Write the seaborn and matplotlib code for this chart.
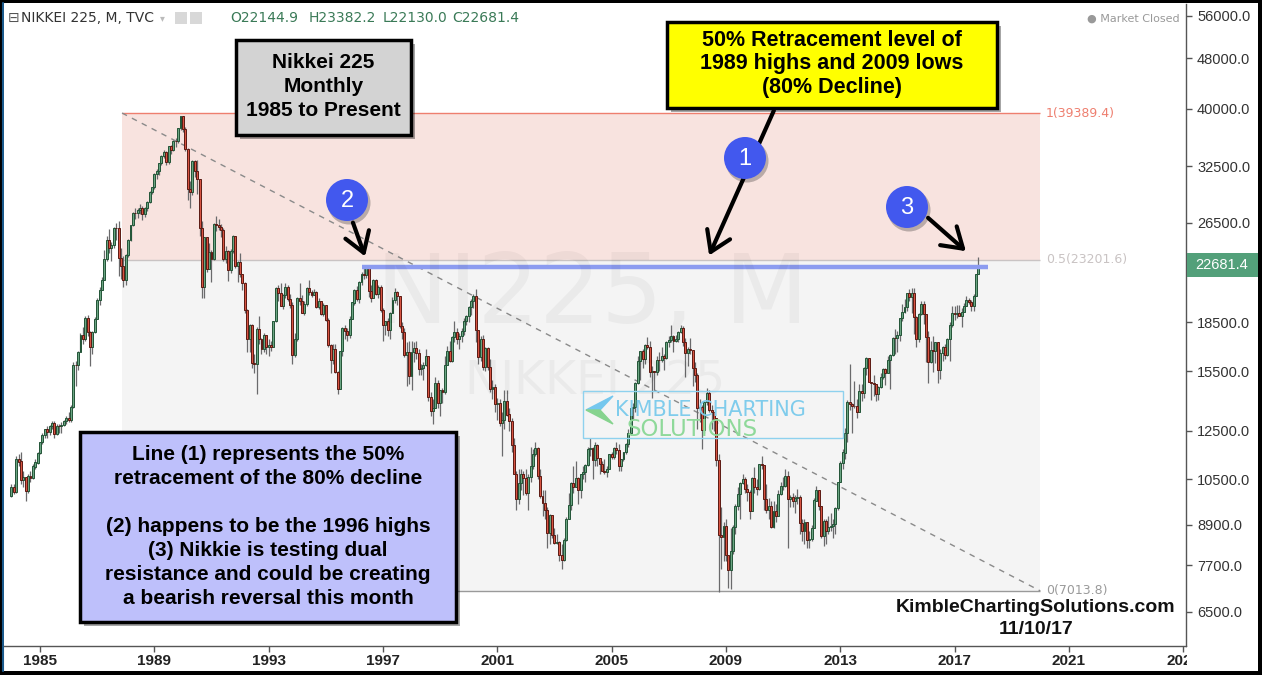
import numpy as np
import pandas as pd
import matplotlib
matplotlib.use("Agg")
import matplotlib.pyplot as plt
import matplotlib.patches as mpatches
import matplotlib.font_manager as fm
import seaborn as sns

W, H = 1262, 675

# Nikkei 225 monthly candles, Jan 1984 .. Nov 2017 (values in thousands)
first_open = 9.89
closes = [
    10.20, 10.01, 11.29, 11.19, 10.48, 10.58, 10.07, 10.60, 10.56, 10.99, 11.15, 11.54,  # 1984
    11.99, 12.32, 12.58, 12.43, 12.71, 12.88, 12.35, 12.71, 12.70, 12.76, 12.95, 13.11,  # 1985
    13.02, 13.64, 15.86, 15.83, 16.62, 17.65, 17.40, 18.82, 17.85, 16.91, 17.85, 18.70,  # 1986
    20.05, 20.79, 21.57, 23.27, 24.90, 24.18, 24.49, 26.03, 26.01, 23.33, 22.69, 21.56,  # 1987
    23.62, 24.90, 26.26, 27.43, 27.42, 27.77, 27.91, 27.37, 27.92, 28.60, 29.58, 30.16,  # 1988
    31.58, 31.99, 32.84, 33.71, 34.27, 32.95, 34.95, 34.43, 35.64, 35.55, 37.27, 38.92,  # 1989
    37.19, 34.59, 29.98, 29.58, 33.13, 31.94, 31.04, 25.98, 20.98, 25.19, 22.45, 23.85,  # 1990
    23.29, 26.41, 26.29, 26.11, 25.79, 23.29, 23.90, 22.34, 23.92, 25.22, 22.69, 22.98,  # 1991
    22.02, 21.34, 19.35, 17.39, 18.35, 15.95, 15.91, 18.06, 17.40, 16.77, 17.68, 16.92,  # 1992
    17.02, 16.95, 18.59, 20.92, 20.55, 19.59, 20.38, 21.03, 20.11, 19.70, 16.41, 17.42,  # 1993
    20.23, 20.00, 19.11, 19.73, 20.97, 20.64, 20.45, 20.63, 19.56, 19.99, 19.08, 19.72,  # 1994
    18.65, 17.05, 16.14, 16.81, 15.44, 14.52, 16.68, 18.12, 17.91, 17.66, 18.74, 19.87,  # 1995
    20.81, 20.13, 21.41, 22.04, 21.96, 22.53, 20.69, 20.17, 21.56, 20.47, 21.02, 19.36,  # 1996
    18.33, 18.56, 18.00, 19.15, 20.07, 20.61, 20.33, 18.23, 17.89, 16.46, 16.64, 15.26,  # 1997
    16.63, 16.83, 16.53, 15.64, 15.67, 15.83, 16.38, 14.11, 13.41, 13.56, 14.88, 13.84,  # 1998
    14.50, 14.37, 15.84, 16.70, 16.11, 17.53, 17.86, 17.44, 17.61, 17.94, 18.56, 18.93,  # 1999
    19.54, 19.96, 20.34, 17.97, 16.33, 17.41, 15.73, 16.86, 15.75, 14.54, 14.65, 13.79,  # 2000
    13.84, 12.88, 13.00, 13.93, 13.26, 12.97, 11.86, 10.71, 9.77, 10.37, 10.70, 10.54,   # 2001
    10.00, 10.59, 11.02, 11.49, 11.76, 10.62, 9.88, 9.62, 9.38, 8.64, 9.22, 8.58,        # 2002
    8.34, 8.36, 7.97, 7.83, 8.42, 9.08, 9.56, 10.34, 10.22, 10.56, 10.10, 10.68,         # 2003
    10.78, 11.04, 11.72, 11.76, 11.24, 11.86, 11.33, 11.08, 10.82, 10.77, 10.90, 11.49,  # 2004
    11.39, 11.74, 11.67, 11.01, 11.28, 11.58, 11.90, 12.41, 13.57, 13.61, 14.87, 16.11,  # 2005
    16.65, 16.21, 17.06, 16.91, 15.47, 15.51, 15.46, 16.14, 16.13, 16.40, 16.27, 17.23,  # 2006
    17.38, 17.60, 17.29, 17.40, 17.88, 18.14, 17.25, 16.57, 16.79, 16.74, 15.68, 15.31,  # 2007
    13.59, 13.60, 12.53, 13.85, 14.34, 13.48, 13.38, 13.07, 11.26, 8.58, 8.51, 8.86,     # 2008
    7.99, 7.57, 8.11, 8.83, 9.52, 9.96, 10.36, 10.49, 10.13, 10.03, 9.35, 10.55,         # 2009
    10.20, 10.13, 11.09, 11.06, 9.77, 9.38, 9.54, 8.82, 9.37, 9.20, 9.94, 10.23,         # 2010
    10.24, 10.62, 9.76, 9.85, 9.69, 9.82, 9.83, 8.96, 8.70, 8.99, 8.43, 8.46,            # 2011
    8.80, 9.72, 10.08, 9.52, 8.54, 9.01, 8.70, 8.84, 8.87, 8.93, 9.45, 10.40,            # 2012
    11.14, 11.56, 12.40, 13.86, 13.77, 13.68, 13.67, 13.39, 14.46, 14.33, 15.66, 16.29,  # 2013
    14.91, 14.84, 14.83, 14.30, 14.63, 15.16, 15.62, 15.42, 16.17, 16.41, 17.46, 17.45,  # 2014
    17.67, 18.80, 19.21, 19.52, 20.56, 20.24, 20.59, 18.89, 17.39, 19.08, 19.75, 19.03,  # 2015
    17.52, 16.03, 16.76, 16.67, 17.23, 15.58, 16.57, 16.89, 16.45, 17.43, 18.31, 19.11,  # 2016
    19.04, 19.12, 18.91, 19.20, 19.65, 20.03, 19.93, 19.65, 20.36, 22.01, 22.68,         # 2017
]
highs = [
    10.30, 10.30, 11.40, 11.50, 11.58, 10.80, 10.60, 10.70, 10.80, 11.10, 11.30, 11.58,
    12.00, 12.40, 12.60, 12.70, 12.75, 12.95, 12.95, 12.80, 12.80, 12.90, 13.00, 13.20,
    13.40, 13.70, 16.00, 16.10, 16.70, 17.80, 18.20, 18.90, 18.97, 17.90, 17.90, 18.85,
    20.20, 21.00, 21.80, 24.00, 25.30, 25.90, 24.70, 26.10, 26.50, 26.65, 24.20, 23.50,
    23.70, 25.00, 26.30, 27.60, 28.00, 28.00, 28.40, 28.20, 28.10, 28.70, 29.70, 30.20,
    31.70, 32.20, 32.90, 33.80, 34.50, 34.40, 35.00, 35.10, 35.70, 36.00, 37.30, 38.96,
    38.95, 37.50, 34.70, 30.80, 33.20, 33.20, 33.20, 31.00, 26.70, 25.20, 25.20, 24.60,
    24.00, 26.45, 27.15, 26.90, 26.40, 26.00, 24.40, 24.00, 24.10, 25.40, 25.30, 23.10,
    23.80, 22.00, 21.40, 19.40, 18.40, 18.40, 16.50, 18.20, 18.90, 17.50, 17.80, 17.70,
    17.40, 17.30, 18.60, 21.00, 21.20, 21.30, 20.50, 21.30, 21.15, 20.50, 19.90, 17.80,
    20.30, 21.30, 20.40, 20.00, 21.00, 21.55, 20.80, 20.90, 20.70, 20.20, 20.00, 19.80,
    19.70, 18.80, 17.10, 17.10, 17.10, 15.50, 16.70, 18.20, 18.30, 18.10, 18.90, 19.90,
    20.90, 21.10, 21.50, 22.20, 22.70, 22.75, 22.70, 21.20, 21.60, 21.60, 21.20, 21.20,
    19.50, 18.60, 18.80, 19.20, 20.30, 20.91, 20.70, 20.30, 18.50, 18.10, 17.20, 17.30,
    17.30, 17.20, 17.30, 16.80, 15.90, 16.00, 16.80, 16.40, 14.40, 14.00, 15.20, 15.00,
    14.50, 14.60, 16.40, 17.00, 17.30, 17.60, 18.60, 18.10, 17.80, 18.10, 18.80, 19.00,
    19.60, 20.10, 20.50, 20.83, 18.00, 17.60, 17.70, 16.90, 16.90, 16.20, 15.00, 14.80,
    14.10, 14.00, 13.40, 14.50, 14.50, 13.60, 13.10, 12.20, 10.80, 10.90, 10.90, 10.80,
    10.90, 10.70, 11.80, 11.70, 12.00, 11.80, 10.90, 10.10, 10.10, 9.50, 9.25, 9.20,
    8.80, 8.60, 8.40, 8.30, 8.50, 9.15, 10.00, 10.40, 11.00, 11.20, 10.60, 10.70,
    11.00, 11.10, 11.80, 12.20, 11.80, 11.99, 11.90, 11.30, 11.20, 11.30, 11.00, 11.50,
    11.60, 11.80, 12.00, 11.90, 11.30, 11.60, 11.95, 12.60, 13.60, 13.80, 14.90, 16.40,
    16.70, 16.80, 17.10, 17.56, 17.30, 15.80, 15.50, 16.40, 16.60, 16.90, 16.50, 17.30,
    17.60, 18.30, 17.70, 17.70, 17.90, 18.30, 18.26, 17.50, 16.90, 17.49, 16.70, 16.00,
    15.40, 14.00, 13.70, 13.90, 14.60, 14.50, 13.70, 13.30, 12.80, 11.50, 9.50, 9.00,
    9.10, 7.90, 8.80, 8.90, 9.60, 10.20, 10.40, 10.70, 10.60, 10.30, 10.10, 10.60,
    10.98, 10.50, 11.10, 11.40, 11.00, 10.30, 9.80, 9.70, 9.70, 9.60, 10.10, 10.40,
    10.60, 10.90, 10.80, 9.90, 10.00, 9.90, 10.14, 9.90, 9.10, 9.10, 9.00, 8.70,
    8.90, 9.80, 10.25, 10.00, 9.50, 9.10, 9.10, 9.20, 9.30, 9.10, 9.50, 10.40,
    11.20, 11.70, 12.65, 13.98, 15.94, 13.80, 14.95, 14.00, 14.82, 14.80, 15.73, 16.32,
    16.16, 14.90, 15.30, 14.70, 14.70, 15.40, 15.70, 15.70, 16.37, 16.50, 17.52, 18.03,
    17.90, 18.80, 19.78, 20.13, 20.56, 20.87, 20.95, 20.94, 18.90, 19.10, 20.01, 20.01,
    18.95, 17.90, 17.30, 17.60, 17.25, 17.00, 16.80, 17.00, 17.10, 17.50, 18.50, 19.59,
    19.62, 19.67, 19.67, 19.45, 19.80, 20.32, 20.22, 20.08, 20.48, 22.04, 23.38,
]
lows = [
    9.85, 9.95, 10.00, 11.00, 10.30, 10.20, 9.70, 10.00, 10.40, 10.50, 10.90, 11.10,
    11.50, 11.90, 12.20, 12.20, 12.30, 12.60, 12.20, 12.30, 12.40, 12.40, 12.70, 12.80,
    12.90, 12.90, 13.60, 14.70, 15.60, 16.60, 17.10, 17.30, 17.60, 15.80, 16.50, 17.80,
    18.70, 19.70, 20.80, 21.60, 23.10, 23.80, 23.10, 24.20, 24.90, 21.90, 21.60, 21.00,
    21.20, 23.40, 24.80, 26.20, 26.90, 27.00, 27.40, 26.80, 27.10, 27.70, 28.50, 29.40,
    29.90, 31.00, 31.50, 32.70, 33.50, 32.60, 32.80, 34.00, 34.30, 34.90, 35.40, 37.10,
    36.80, 34.30, 28.80, 28.00, 29.30, 31.30, 29.40, 25.30, 20.20, 20.20, 22.20, 22.40,
    21.40, 23.20, 25.70, 25.80, 25.20, 23.10, 22.90, 21.50, 22.10, 23.80, 22.50, 21.40,
    21.80, 20.80, 19.10, 16.60, 16.60, 15.70, 15.40, 14.30, 17.10, 16.50, 16.60, 16.50,
    16.40, 16.70, 16.90, 18.50, 20.00, 19.60, 19.40, 20.20, 20.00, 19.50, 15.90, 16.30,
    17.30, 19.70, 19.10, 19.00, 19.60, 20.40, 20.30, 20.40, 19.50, 19.40, 19.00, 18.90,
    18.60, 16.90, 15.40, 15.90, 15.40, 14.30, 14.60, 16.40, 17.40, 17.30, 17.50, 18.70,
    19.70, 20.00, 19.80, 21.20, 21.60, 21.70, 20.30, 19.90, 20.20, 20.40, 20.20, 19.20,
    17.30, 17.70, 17.60, 17.40, 19.10, 19.80, 19.70, 18.10, 17.40, 16.30, 14.70, 14.80,
    14.50, 16.00, 16.20, 15.30, 15.30, 15.00, 15.80, 13.90, 13.20, 12.80, 13.60, 13.60,
    13.20, 13.80, 14.30, 15.90, 16.00, 16.00, 17.20, 17.10, 16.80, 17.20, 17.70, 18.30,
    18.50, 19.00, 19.50, 17.20, 15.90, 16.10, 15.60, 15.50, 15.60, 14.40, 14.00, 13.40,
    13.00, 12.70, 11.40, 12.60, 13.20, 12.50, 11.60, 10.70, 9.40, 9.60, 10.10, 9.90,
    9.90, 9.40, 10.40, 10.90, 11.40, 10.50, 9.80, 9.20, 9.10, 8.20, 8.30, 8.50,
    8.30, 8.30, 7.80, 7.60, 7.80, 8.40, 9.30, 9.40, 10.00, 10.30, 9.60, 9.80,
    10.50, 10.40, 11.00, 11.40, 10.50, 11.00, 11.00, 10.70, 10.80, 10.70, 10.60, 10.90,
    11.30, 11.30, 11.50, 10.80, 10.80, 11.20, 11.50, 11.80, 12.30, 13.00, 13.40, 14.80,
    15.00, 15.70, 15.90, 16.80, 15.20, 14.05, 14.50, 15.30, 15.50, 16.00, 15.60, 16.20,
    16.90, 17.20, 16.60, 17.20, 17.20, 17.80, 17.00, 15.20, 15.80, 16.50, 14.70, 14.90,
    12.60, 12.90, 11.70, 12.40, 13.70, 13.40, 12.60, 12.50, 11.00, 6.99, 7.60, 7.80,
    7.80, 7.10, 7.05, 8.00, 8.60, 9.40, 9.10, 10.30, 10.00, 9.70, 9.10, 9.50,
    10.00, 9.90, 10.10, 10.90, 9.40, 9.30, 9.10, 8.80, 8.80, 9.00, 9.20, 9.90,
    10.10, 10.20, 8.20, 9.50, 9.50, 9.30, 9.60, 8.60, 8.40, 8.30, 8.20, 8.20,
    8.40, 8.80, 9.70, 9.40, 8.50, 8.24, 8.30, 8.60, 8.70, 8.50, 8.60, 9.40,
    10.50, 10.90, 11.30, 12.00, 13.50, 12.40, 13.60, 13.10, 13.40, 13.90, 14.10, 15.30,
    14.90, 13.99, 14.20, 13.90, 13.95, 14.60, 15.10, 14.75, 15.50, 14.53, 16.40, 16.50,
    16.59, 17.30, 18.60, 19.10, 19.30, 19.99, 19.12, 17.71, 16.90, 17.20, 19.00, 18.40,
    16.02, 14.87, 15.98, 15.47, 15.98, 14.86, 15.10, 16.10, 16.20, 16.40, 16.11, 18.20,
    18.65, 18.81, 18.98, 18.22, 19.25, 19.60, 19.77, 19.24, 19.24, 20.38, 22.13,
]

# retracement tool and annotation levels
fib_levels = [7013.8, 23201.6, 39389.4]
fib_names = ["0(7013.8)", "0.5(23201.6)", "1(39389.4)"]
fib_span = [1987.87, 2020.0]
line1_level = 22600
line1_span = [1996.27, 2018.17]
price_ticks = [6500, 7700, 8900, 10500, 12500, 15500, 18500, 26500, 32500, 40000, 48000, 56000]
year_ticks = list(range(1985, 2026, 4))
last_price = 22681.4
header_ohlc = [("O22144.9", 230), ("H23382.2", 309), ("L22130.0", 383), ("C22681.4", 452)]

sns.set_theme(style="white")
plt.rcParams['font.family'] = ['Liberation Sans', 'DejaVu Sans']
names = {f.name for f in fm.fontManager.ttflist}
narrow = 'Liberation Sans Narrow' in names

fig = plt.figure(figsize=(W / 100, H / 100), dpi=100, facecolor='black')


def fx(x):
    return x / W


def fy(y):
    return 1 - y / H


def rect(x0, y0, x1, y1, **kw):
    r = mpatches.Rectangle((fx(x0), fy(y1)), (x1 - x0) / W, (y1 - y0) / H,
                           transform=fig.transFigure, **kw)
    fig.add_artist(r)
    return r


def ftext(x, y, s, **kw):
    return fig.text(fx(x), fy(y), s, **kw)


# screenshot frame
rect(4, 3, 1258, 671, facecolor='white', edgecolor='none', zorder=-5)
fig.add_artist(plt.Line2D([fx(3), fx(3)], [fy(3), fy(671)], color='#1b5a8c', lw=1.5,
                          transform=fig.transFigure, zorder=-4))

ax = fig.add_axes([fx(4), fy(646), (1186 - 4) / W, (646 - 4) / H])
ax.set_facecolor('white')
ax.set_yscale('log')
ax.set_ylim(5748, 58390)
ax.set_xlim(1983.74, 2025.10)

# candles
dates = pd.date_range('1984-01-01', periods=len(closes), freq='MS')
df = pd.DataFrame({'close': closes, 'high': highs, 'low': lows}, index=dates) * 1000
df['open'] = df['close'].shift(1).fillna(first_open * 1000)
df['x'] = df.index.year + (df.index.month - 1) / 12
df['high'] = df[['high', 'open', 'close']].max(axis=1)
df['low'] = df[['low', 'open', 'close']].min(axis=1)
up = df['close'] >= df['open']

ax.vlines(df['x'], df['low'], df['high'], color='#6a6a6c', lw=0.9, zorder=3)
for mask, fc, ec in [(up, '#6BA583', '#225437'), (~up, '#D75442', '#5B1A13')]:
    d = df[mask]
    ax.bar(d['x'], (d['close'] - d['open']).abs() + 1, bottom=d[['open', 'close']].min(axis=1),
           width=0.068, color=fc, edgecolor=ec, linewidth=0.7, zorder=4)

# fib retracement zones
ax.fill_between(fib_span, fib_levels[1], fib_levels[2], color='#F8E3DF', lw=0, zorder=0)
ax.fill_between(fib_span, fib_levels[0], fib_levels[1], color='#F4F4F4', lw=0, zorder=0)
fib_colors = ['#9a9a9a', '#c9c3c3', '#EE7F6F']
for lvl, nm, c in zip(fib_levels, fib_names, fib_colors):
    ax.hlines(lvl, fib_span[0], fib_span[1], color=c, lw=1, zorder=1)
    ax.text(fib_span[1] + 0.2, lvl, nm, color=c, fontsize=9, va='center', ha='left',
            family='DejaVu Sans', zorder=5)
ax.plot(fib_span, [fib_levels[2], fib_levels[0]], color='#8a8a8a', lw=1, ls=(0, (4, 4)), zorder=2)
ax.hlines(line1_level, line1_span[0], line1_span[1], color='#8C9CF0', lw=3.2, zorder=5)

# watermarks
ftext(592, 323, "NI225, M", fontsize=70, color='black', alpha=0.04, ha='center', va='baseline',
      family='DejaVu Sans', zorder=1)
ftext(595, 395, "NIKKEI 225", fontsize=34, color='black', alpha=0.04, ha='center', va='baseline',
      family='DejaVu Sans', zorder=1)

# Kimble logo
rect(583, 391, 843, 438, facecolor='none', edgecolor='#8ED1EE', lw=1, zorder=6)
fig.add_artist(mpatches.Polygon([(fx(586), fy(410)), (fx(613), fy(396)), (fx(600), fy(410))],
                                closed=True, transform=fig.transFigure, color='#74C7EE', zorder=6))
fig.add_artist(mpatches.Polygon([(fx(586), fy(410)), (fx(613), fy(424)), (fx(600), fy(410))],
                                closed=True, transform=fig.transFigure, color='#86D38E', zorder=6))
ftext(615, 416, "KIMBLE CHARTING", fontsize=15, color='#7FCCEC', ha='left', va='baseline',
      family='DejaVu Sans', zorder=6)
ftext(627, 436, "SOLUTIONS", fontsize=16.5, color='#8FD99A', ha='left', va='baseline',
      family='DejaVu Sans', zorder=6)

# axes styling
for s in ['left', 'top']:
    ax.spines[s].set_visible(False)
for s in ['right', 'bottom']:
    ax.spines[s].set_color('#555555')
    ax.spines[s].set_linewidth(1)
ax.yaxis.tick_right()
ax.yaxis.set_minor_locator(matplotlib.ticker.NullLocator())
ax.set_yticks(price_ticks)
ax.set_yticklabels(["%.1f" % t for t in price_ticks])
ax.set_xticks(year_ticks)
ax.set_xticklabels([str(y) for y in year_ticks], fontweight='bold')
ax.tick_params(axis='y', which='major', right=True, direction='out', length=4, width=1,
               color='#555555', labelsize=10.5, labelcolor='#333333', pad=4)
ax.tick_params(axis='x', which='major', bottom=True, direction='out', length=4, width=1,
               color='#555555', labelsize=11, labelcolor='#222222', pad=2)
ax.grid(False)

# price scale cover for clipped year label and last price tag
rect(1187, 647, 1258, 671, facecolor='white', edgecolor='none', zorder=8)
rect(1187, 253, 1258, 277, facecolor='#53A07A', edgecolor='none', zorder=9)
ftext(1195, 265, "%.1f" % last_price, color='white', fontsize=10.5, va='center', ha='left', zorder=10)

# header
ftext(8, 18, "⊟", fontsize=10, color='#555555', va='center', family='DejaVu Sans')
ftext(21, 18, "NIKKEI 225, M, TVC", fontsize=10, color='#333333', va='center', family='DejaVu Sans')
ftext(160, 18, "▾", fontsize=7, color='#bbbbbb', va='center', family='DejaVu Sans')
rect(175, 12, 187, 24, facecolor='#d8d8d8', edgecolor='none')
rect(190, 12, 202, 24, facecolor='#d8d8d8', edgecolor='none')
for s, xp in header_ohlc:
    ftext(xp, 18, s, fontsize=10, color='#3A7A57', va='center', family='DejaVu Sans')
ftext(1180, 19, "● Market Closed", fontsize=8, color='#999999', va='center', ha='right',
      family='DejaVu Sans')


def box(x0, y0, x1, y1, fc, lines, ys, size, family=None):
    rect(x0 + 4, y0 + 4, x1 + 4, y1 + 4, facecolor='#000000', alpha=0.35, edgecolor='none', zorder=10)
    rect(x0, y0, x1, y1, facecolor=fc, edgecolor='black', lw=2.5, zorder=11)
    for s, yy in zip(lines, ys):
        kw = dict(fontsize=size, fontweight='bold', color='black', ha='center', va='center', zorder=12)
        if family:
            kw['family'] = family
        ftext((x0 + x1) / 2, yy, s, **kw)


box(236, 40, 411, 135, '#D3D3D3', ["Nikkei 225", "Monthly", "1985 to Present"], [63, 87, 111], 15)
if narrow:
    box(667, 22, 997, 108, '#FFFF00', ["50% Retracement level of", "1989 highs and 2009 lows", "(80% Decline)"],
        [41, 64, 88], 18, family='Liberation Sans Narrow')
else:
    box(667, 22, 997, 108, '#FFFF00', ["50% Retracement level of", "1989 highs and 2009 lows", "(80% Decline)"],
        [41, 64, 88], 15.5)
box(80, 432, 456, 622, '#BEC0FB',
    ["Line (1) represents the 50%", "retracement of the 80% decline",
     "(2) happens to be the 1996 highs", "(3) Nikkie is testing dual",
     "resistance and could be creating", "a bearish reversal this month"],
    [455, 479, 527, 550, 574, 598], 15)

ftext(1036, 608, "KimbleChartingSolutions.com", fontsize=14, fontweight='bold', ha='center', va='center',
      color='#111111', zorder=12)
ftext(1036, 630, "11/10/17", fontsize=14, fontweight='bold', ha='center', va='center',
      color='#111111', zorder=12)


def arrow(x0, y0, x1, y1):
    a = mpatches.FancyArrowPatch((fx(x0), fy(y0)), (fx(x1), fy(y1)), transform=fig.transFigure,
                                 arrowstyle='->,head_length=0.7,head_width=0.45', mutation_scale=20,
                                 color='black', lw=3, zorder=12)
    fig.add_artist(a)


arrow(775, 108, 708, 258)
arrow(352, 220, 366, 259)
arrow(926, 216, 968, 253)


def bubble(x, y, s):
    fig.add_artist(mpatches.Ellipse((fx(x + 2), fy(y + 3)), 43 / W, 43 / H, transform=fig.transFigure,
                                    facecolor='black', alpha=0.25, edgecolor='none', zorder=13))
    fig.add_artist(mpatches.Ellipse((fx(x), fy(y)), 42 / W, 42 / H, transform=fig.transFigure,
                                    facecolor='#4258EE', edgecolor='none', zorder=14))
    ftext(x, y + 1, s, fontsize=17, color='white', ha='center', va='center', zorder=15)


bubble(745, 158, "1")
bubble(347, 200, "2")
bubble(907, 207, "3")

fig.savefig("out.png", dpi=100, facecolor='black')
